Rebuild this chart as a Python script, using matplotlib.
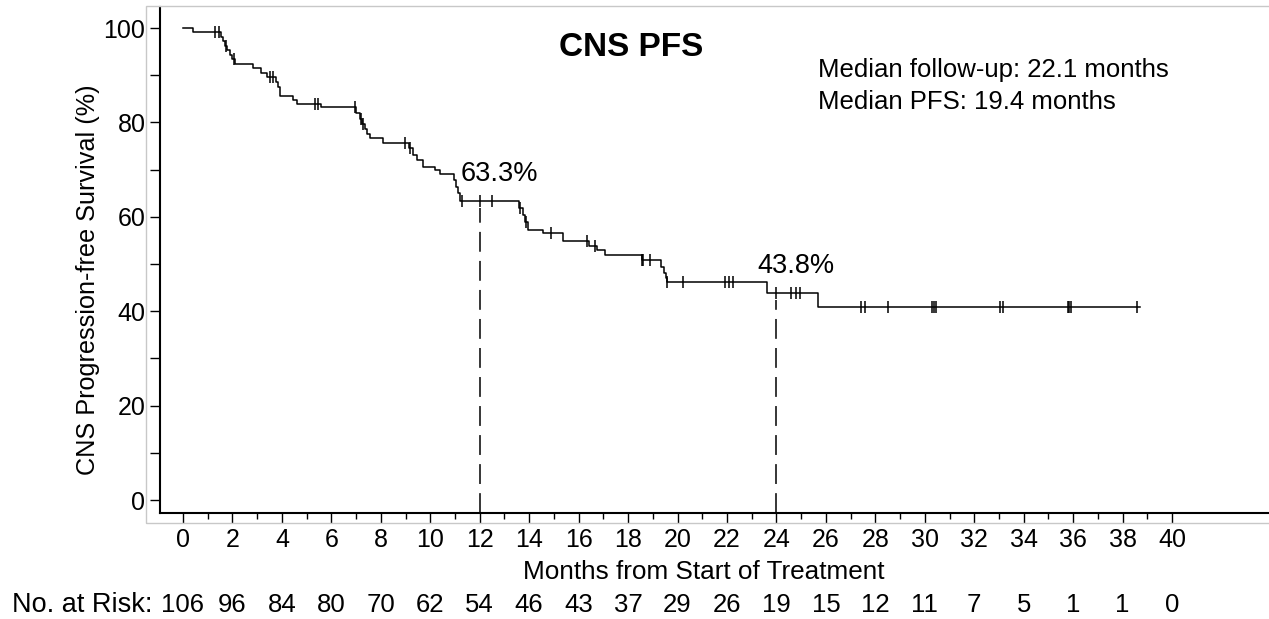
import numpy as np
import matplotlib
matplotlib.use("Agg")
import matplotlib.pyplot as plt
from matplotlib.patches import Rectangle

plt.rcParams['font.family'] = ['Liberation Sans', 'DejaVu Sans']

# ---- data ----
step_times = [0, 0.42, 1.55, 1.62, 1.70, 1.78, 1.90, 2.00, 2.10, 2.85, 3.15, 3.40,
              3.75, 3.85, 3.92, 4.45, 4.60, 5.60, 7.00, 7.15, 7.25, 7.36, 7.45,
              7.56, 8.10, 9.15, 9.30, 9.45, 9.70, 10.20, 10.40, 10.95, 11.05,
              11.12, 11.20, 13.60, 13.75, 13.85, 13.95, 14.55, 15.38, 16.40,
              16.73, 17.07, 18.55, 19.35, 19.45, 19.52, 19.58, 23.60, 25.70]
step_surv = [100, 99.1, 98.1, 97.2, 96.2, 95.3, 94.3, 93.4, 92.4, 91.5, 90.5, 89.6,
             88.6, 87.4, 85.5, 84.7, 84.0, 83.3, 82.0, 80.8, 79.6, 78.5, 77.6,
             76.8, 75.7, 74.5, 73.2, 72.0, 70.6, 69.9, 69.0, 67.8, 66.4,
             65.0, 63.3, 61.9, 60.3, 58.8, 57.3, 56.5, 54.8, 53.8,
             53.0, 52.0, 50.8, 49.4, 48.0, 47.0, 46.1, 43.8, 40.9]
end_time = 38.7
censor_times = [1.30, 1.47, 1.72, 2.05, 3.52, 3.65, 5.35, 5.47, 6.96, 7.20, 7.28,
                8.98, 9.18, 11.27, 12.0, 12.48, 13.63, 13.88, 14.9, 16.34, 16.66,
                18.55, 18.62, 18.89, 19.58, 20.23, 21.92, 22.1, 22.26, 24.0,
                24.6, 24.8, 24.95, 27.4, 27.58, 28.5, 30.3, 30.37, 30.45,
                33.04, 33.18, 35.8, 35.85, 35.9, 38.6]
landmark_times = [12, 24]
landmark_vals = [63.3, 43.8]
landmark_labels = ["63.3%", "43.8%"]
risk_months = list(range(0, 42, 2))
risk_counts = [106, 96, 84, 80, 70, 62, 54, 46, 43, 37, 29, 26, 19, 15, 12, 11, 7, 5, 1, 1, 0]

W, H = 1269, 619
fig = plt.figure(figsize=(W / 100, H / 100), dpi=100)
ax = fig.add_axes([160 / W, 1 - 513 / H, (W - 160) / W, (513 - 7) / H])

# light grey outer frame
fig.patches.append(Rectangle((146 / W, 1 - 523 / H), (W + 10 - 146) / W, (523 - 6) / H,
                             transform=fig.transFigure, fill=False,
                             edgecolor='#c8c8c8', lw=1.0, zorder=0))

xmin, xmax = -0.93, 43.92
ymin, ymax = -2.75, 104.45
ax.set_xlim(xmin, xmax)
ax.set_ylim(ymin, ymax)

# KM curve
t = np.array(step_times + [end_time])
s = np.array(step_surv + [step_surv[-1]])
ax.step(t, s, where='post', color='black', lw=1.1, zorder=3)

# censor marks
ct = np.array(censor_times)
idx = np.searchsorted(np.array(step_times), ct, side='right') - 1
cs = np.array(step_surv)[idx]
ax.plot(ct, cs, linestyle='none', marker='|', markersize=8, mew=1.1,
        color='black', zorder=4)

# landmark dashed lines and labels
for lt, lv, lab in zip(landmark_times, landmark_vals, landmark_labels):
    ax.plot([lt, lt], [ymin, lv - 1.5], color='black', lw=1.1,
            linestyle=(0, (13, 6)), zorder=2)
    ax.text(lt + 0.8, lv + 5.8, lab, fontsize=19.5, ha='center', va='center')

# spines
for side in ['top', 'right']:
    ax.spines[side].set_visible(False)
for side in ['left', 'bottom']:
    ax.spines[side].set_linewidth(1.5)
    ax.spines[side].set_color('black')

ax.set_xticks(range(0, 42, 2))
ax.set_xticks(range(1, 41, 2), minor=True)
ax.set_yticks(range(0, 101, 20))
ax.set_yticks(range(10, 100, 20), minor=True)
ax.tick_params(axis='both', which='major', length=7.5, width=1.0, labelsize=18,
               direction='out', color='black')
ax.tick_params(axis='x', which='major', pad=3)
ax.tick_params(axis='y', which='major', pad=3)
ax.tick_params(axis='x', which='minor', length=4, width=1.0, direction='out')
ax.tick_params(axis='y', which='minor', length=7, width=1.0, direction='out')

# axis labels
ax.text((704 - 160) / (W - 160), -(572 - 513) / (513 - 7),
        "Months from Start of Treatment", transform=ax.transAxes,
        ha='center', va='center', fontsize=18.8)
ax.text((88 - 160) / (W - 160), (513 - 280) / (513 - 7),
        "CNS Progression-free Survival (%)", transform=ax.transAxes,
        ha='center', va='center', rotation=90, fontsize=18.2)

# title and notes
ax.text((631 - 160) / (W - 160), (513 - 48) / (513 - 7), "CNS PFS",
        transform=ax.transAxes, ha='center', va='center', fontsize=24,
        fontweight='bold')
ax.text((818 - 160) / (W - 160), (513 - 70) / (513 - 7),
        "Median follow-up: 22.1 months", transform=ax.transAxes,
        ha='left', va='center', fontsize=18.5)
ax.text((818 - 160) / (W - 160), (513 - 102) / (513 - 7),
        "Median PFS: 19.4 months", transform=ax.transAxes,
        ha='left', va='center', fontsize=18.5)

# numbers at risk
ry = -(605 - 513) / (513 - 7)
fig.text(12 / W, 1 - 605 / H, "No. at Risk:", ha='left', va='center', fontsize=19.5)
for m, c in zip(risk_months, risk_counts):
    ax.text(m, ry, str(c), transform=ax.get_xaxis_transform(),
            ha='center', va='center', fontsize=18.5, clip_on=False)

fig.savefig("out.png", dpi=100)
